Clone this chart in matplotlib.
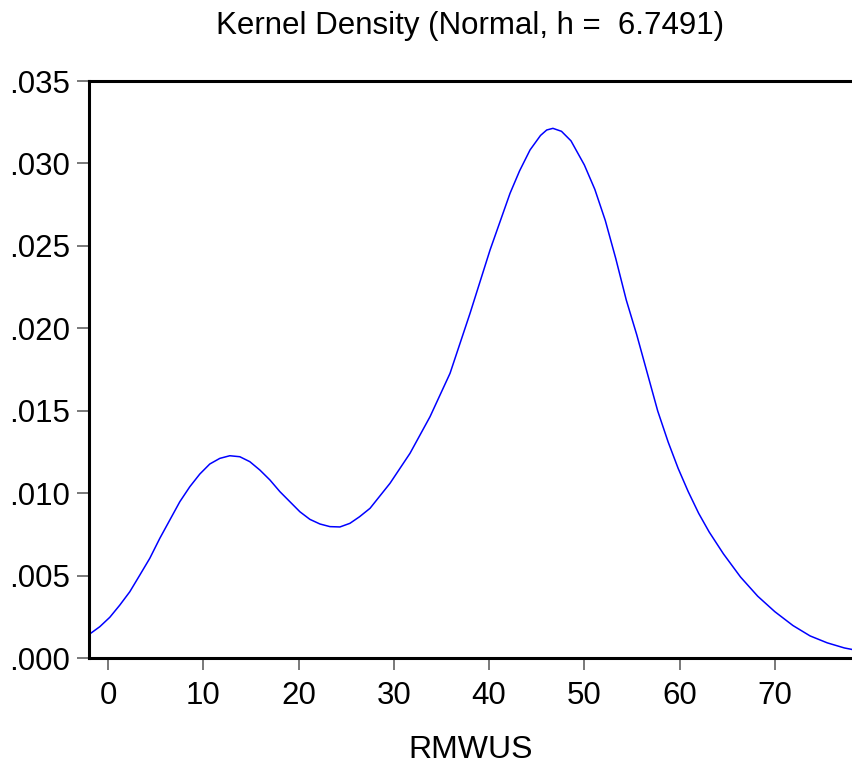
import numpy as np
import matplotlib.pyplot as plt
from matplotlib.ticker import FuncFormatter

# density curve
rmwus = [-2.0, -1.92, -0.87, 0.18, 1.23, 2.28, 3.33, 4.38, 5.43, 6.48, 7.53,
         8.58, 9.63, 10.68, 11.73, 12.78, 13.83, 14.88, 15.94, 16.99, 18.04,
         19.09, 20.14, 21.19, 22.24, 23.29, 24.34, 25.39, 26.4, 27.5, 29.6,
         31.7, 33.8, 35.9, 38.0, 40.1, 42.2, 43.2, 44.3, 45.4, 46.05, 46.7,
         47.6, 48.6, 50.0, 51.1, 52.2, 53.3, 54.4, 55.5, 56.6, 57.7, 58.8,
         59.85, 60.9, 62.0, 63.1, 64.6, 66.4, 68.2, 70.0, 71.9, 73.7, 75.5,
         77.3, 78.1]
density = [0.00140, 0.00146, 0.00190, 0.00247, 0.00321, 0.00402, 0.00503,
           0.00605, 0.00726, 0.00837, 0.00948, 0.01039, 0.01116, 0.01177,
           0.01211, 0.01227, 0.01221, 0.01191, 0.01140, 0.01080, 0.01009,
           0.00948, 0.00887, 0.00841, 0.00813, 0.00797, 0.00795, 0.00817,
           0.00857, 0.00908, 0.01060, 0.01242, 0.01464, 0.01727, 0.02091,
           0.02475, 0.02819, 0.02955, 0.03082, 0.03170, 0.03203, 0.03213,
           0.03195, 0.03137, 0.02991, 0.02843, 0.02654, 0.02423, 0.02172,
           0.01961, 0.01730, 0.01499, 0.01310, 0.01150, 0.01010, 0.00878,
           0.00765, 0.00632, 0.00491, 0.00375, 0.00281, 0.00197, 0.00134,
           0.00092, 0.00061, 0.00052]

x_ticks = [0, 10, 20, 30, 40, 50, 60, 70]
y_ticks = [0.000, 0.005, 0.010, 0.015, 0.020, 0.025, 0.030, 0.035]

plt.rcParams['font.family'] = ['Liberation Sans', 'DejaVu Sans']

fig = plt.figure(figsize=(8.52, 7.63), dpi=100)
ax = fig.add_axes([0.1045, 0.1376, 0.8955, 0.7562])

ax.plot(rmwus, density, color='#0000ff', linewidth=1.1)

ax.set_xlim(-2.0, 78.1)
ax.set_ylim(0, 0.035)
ax.set_xticks(x_ticks)
ax.set_yticks(y_ticks)
ax.yaxis.set_major_formatter(FuncFormatter(lambda v, p: ('%.3f' % v).lstrip('0')))

ax.spines['right'].set_visible(False)
for side in ['left', 'top', 'bottom']:
    ax.spines[side].set_linewidth(2.2)

ax.tick_params(axis='both', direction='out', length=8.5, width=1.1,
               color='#555555', labelsize=22.5)
ax.tick_params(axis='y', pad=5)
ax.tick_params(axis='x', pad=8)

ax.set_title('Kernel Density (Normal, h =  6.7491)', fontsize=22.5, pad=34)
ax.set_xlabel('RMWUS', fontsize=23, labelpad=17)

fig.savefig('out.png', dpi=100)
